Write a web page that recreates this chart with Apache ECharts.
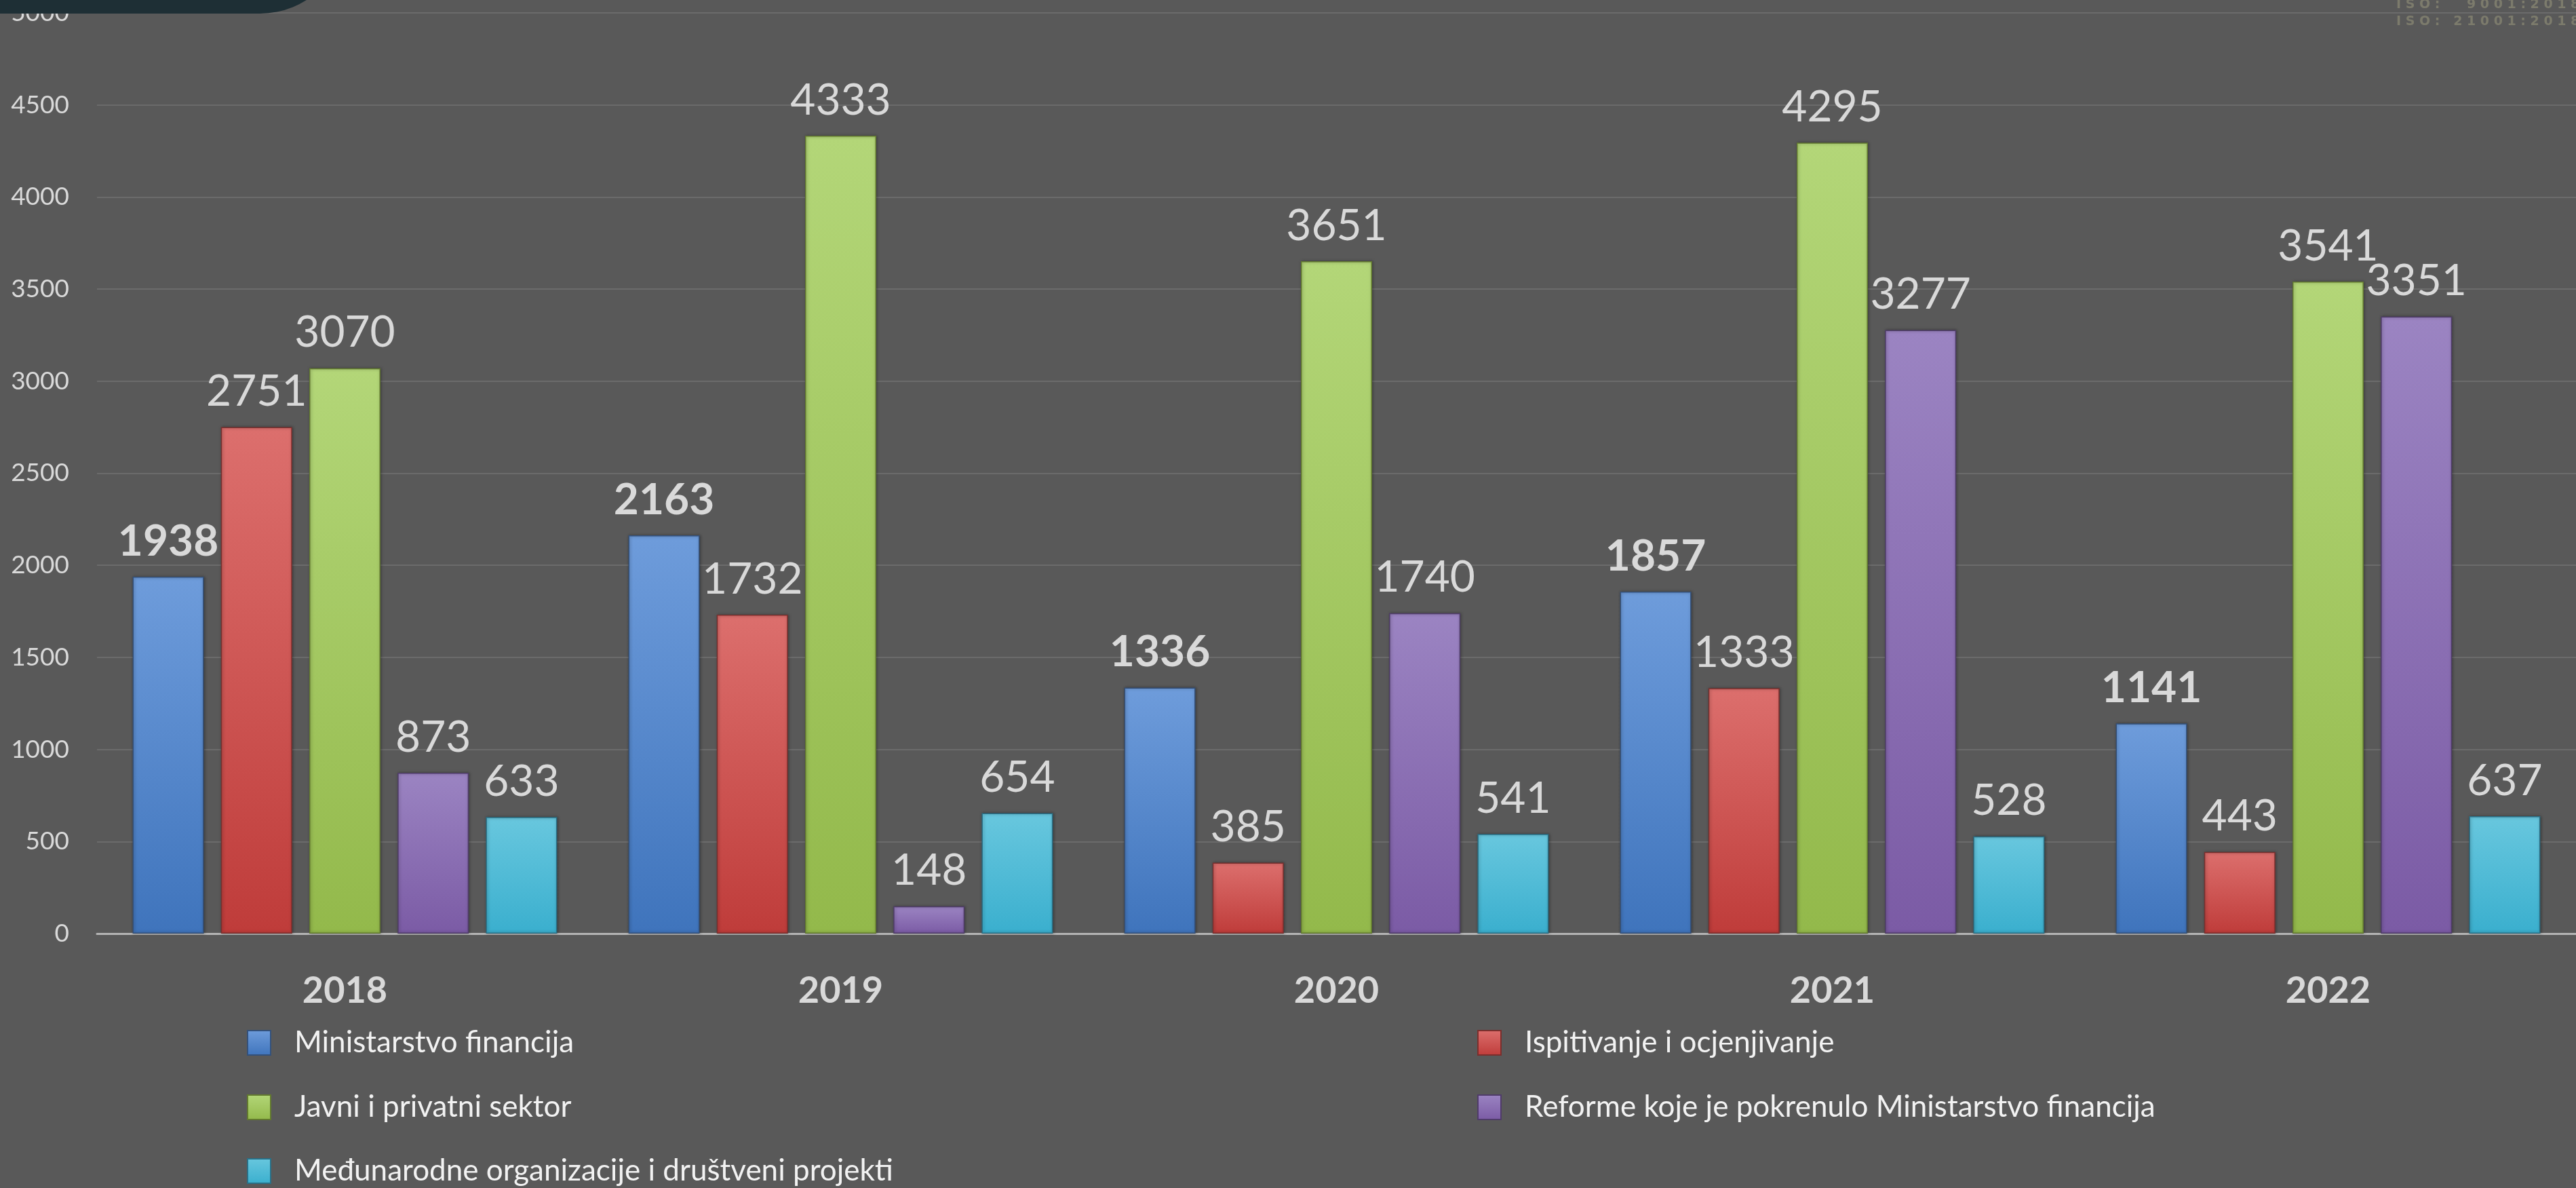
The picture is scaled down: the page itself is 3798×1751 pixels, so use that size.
<!DOCTYPE html>
<html>
<head>
<meta charset="utf-8">
<script src="https://cdn.jsdelivr.net/npm/echarts@6/dist/echarts.min.js"></script>
<style>
html,body{margin:0;padding:0;background:#595959;}
#chart{width:3798px;height:1751px;}
</style>
</head>
<body>
<div id="chart"></div>
<script>
const categories = ['2018', '2019', '2020', '2021', '2022'];
const seriesNames = [
  'Ministarstvo financija',
  'Ispitivanje i ocjenjivanje',
  'Javni i privatni sektor',
  'Reforme koje je pokrenulo Ministarstvo financija',
  'Međunarodne organizacije i društveni projekti'
];
const ministarstvo = [1938, 2163, 1336, 1857, 1141];
const ispitivanje = [2751, 1732, 385, 1333, 443];
const javniPrivatni = [3070, 4333, 3651, 4295, 3541];
const reforme = [873, 148, 1740, 3277, 3351];
const medjunarodne = [633, 654, 541, 528, 637];
const yTicks = [0, 500, 1000, 1500, 2000, 2500, 3000, 3500, 4000, 4500, 5000];

const values = [ministarstvo, ispitivanje, javniPrivatni, reforme, medjunarodne];
const colors = [
  ['#6e9cdb', '#3f74bc'],
  ['#dc6f6d', '#bf3c3a'],
  ['#b3d678', '#93b94b'],
  ['#9b84c2', '#7b5ba5'],
  ['#68c7de', '#3aafce']
];
const borders = ['#34517a', '#7a2f2d', '#62792f', '#4f3c69', '#2a7087'];

const chart = echarts.init(document.getElementById('chart'));
const FONT = 'Lato';

const series = values.map((v, i) => ({
  name: seriesNames[i],
  type: 'bar',
  data: v,
  barWidth: 105,
  barGap: '24%',
  itemStyle: {
    color: new echarts.graphic.LinearGradient(0, 0, 0, 1, [
      {offset: 0, color: colors[i][0]},
      {offset: 1, color: colors[i][1]}
    ]),
    borderColor: borders[i],
    borderWidth: 1.5,
    shadowColor: 'rgba(0,0,0,0.35)',
    shadowBlur: 4,
    shadowOffsetX: 1,
    shadowOffsetY: 0
  },
  label: {
    show: true,
    position: 'top',
    distance: 20,
    color: '#d9d9d9',
    fontFamily: FONT,
    fontSize: 64,
    fontWeight: i === 0 ? 'bold' : 'normal'
  }
}));

// legend positions: [left, top] for each series
const legendPos = [[364, 1515], [2178, 1515], [364, 1610], [2178, 1610], [364, 1704]];
const legends = seriesNames.map((n, i) => ({
  data: [n],
  orient: 'horizontal',
  left: legendPos[i][0], top: legendPos[i][1],
  padding: 0,
  icon: 'rect',
  itemWidth: 34, itemHeight: 36,
  textStyle: {color: '#f2f2f2', fontFamily: FONT, fontSize: 44, padding: [0, 0, 0, 30]}
}));

const option = {
  backgroundColor: '#595959',
  animation: false,
  grid: {left: 143, right: -12, top: 19, bottom: 375, containLabel: false},
  xAxis: {
    type: 'category',
    data: categories,
    axisLine: {show: true, lineStyle: {color: '#b4b4b4', width: 3}},
    axisTick: {show: false},
    axisLabel: {
      color: '#d9d9d9', fontFamily: FONT, fontSize: 54, fontWeight: 'bold', margin: 58
    }
  },
  yAxis: {
    type: 'value',
    min: yTicks[0],
    max: yTicks[yTicks.length - 1],
    interval: 500,
    axisLine: {show: false},
    axisTick: {show: false},
    splitLine: {lineStyle: {color: '#6b6b6b', width: 2}},
    axisLabel: {color: '#d9d9d9', fontFamily: FONT, fontSize: 37, margin: 41, formatter: (v) => String(v)}
  },
  legend: legends,
  graphic: [
    {
      type: 'rect', z: 100,
      shape: {x: -50, y: -300, width: 562, height: 320, r: [0, 0, 129, 0]},
      style: {fill: '#1e2f35'}
    },
    {
      type: 'text', z: 100, left: 3533, top: -2,
      style: {text: 'I S O :      9 0 0 1 : 2 0 1 8', fill: '#7c7b6c', font: 'bold 19px "DejaVu Sans"'}
    },
    {
      type: 'text', z: 100, left: 3533, top: 23,
      style: {text: 'I S O :   2 1 0 0 1 : 2 0 1 8', fill: '#7c7b6c', font: 'bold 19px "DejaVu Sans"'}
    }
  ],
  series: series
};
chart.setOption(option);
</script>
</body>
</html>
